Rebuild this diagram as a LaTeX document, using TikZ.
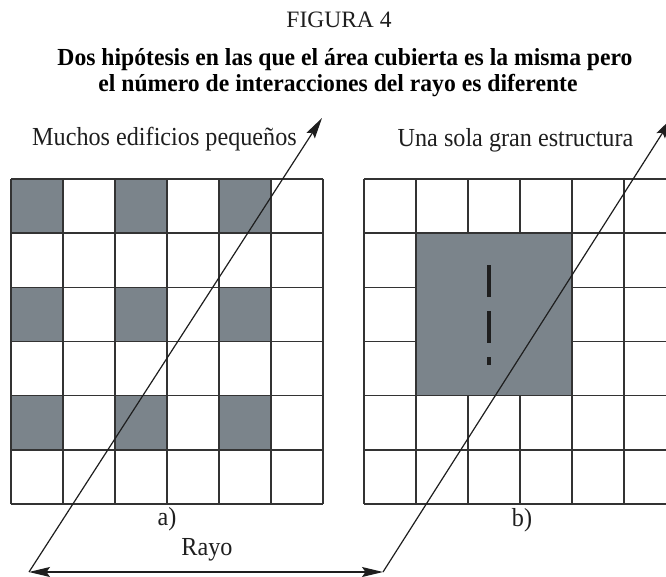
\documentclass[tikz,border=0pt]{standalone}
\usepackage{fontspec}
\usepackage{graphicx}
\setmainfont{Liberation Serif}
\usetikzlibrary{arrows.meta}
\definecolor{bldg}{HTML}{7B848B}
\definecolor{gridc}{HTML}{333333}
\definecolor{inkc}{HTML}{1E1E1E}
\newcommand\condtxt[1]{\scalebox{0.93}[1]{#1}}
\newcommand\condttl[1]{\scalebox{0.965}[1]{#1}}
\begin{document}
\begin{tikzpicture}[x=1pt,y=-1pt,
  gridline/.style={draw=gridc, line width=1.6pt},
  bldgbox/.style={fill=bldg, draw=gridc, line width=1.6pt},
  ray/.style={draw=inkc, line width=1.2pt},
  tip/.tip={Stealth[length=21pt,width=10pt,inset=3.5pt]},
  dashmark/.style={draw=inkc, line width=3.8pt, dash pattern=on 32pt off 14pt},
  lbl/.style={font=\fontsize{26}{28}\selectfont, text=inkc, inner sep=0pt, anchor=base},
  ttl/.style={font=\bfseries\fontsize{24.5}{26}\selectfont, text=black, inner sep=0pt, anchor=base},
]
\useasboundingbox (0,0) rectangle (666,577);
\clip (0,0) rectangle (666,577);

% ---- texts
\node[lbl, font=\fontsize{23.5}{26}\selectfont] (fig) at (339,28) {FIGURA 4};
\node[ttl] (title1) at (345,66) {\condttl{Dos hipótesis en las que el área cubierta es la misma pero}};
\node[ttl] (title2) at (338,92) {\condttl{el número de interacciones del rayo es diferente}};
\node[lbl] (la) at (164.5,146) {\condtxt{Muchos edificios pequeños}};
\node[lbl] (lb) at (515.5,147) {\condtxt{Una sola gran estructura}};
\node[lbl] (a) at (167,525) {\condtxt{a)}};
\node[lbl] (b) at (522,526) {\condtxt{b)}};
\node[lbl] (rayo) at (207,555) {\condtxt{Rayo}};

% ---- grid a: many small buildings
\foreach \c in {0,2,4}
  \foreach \r in {0,2,4}
    \fill[bldg] ({11+52*\c},{179+54.1667*\r}) rectangle ++(52,54.1667);
\foreach \i in {0,...,6} {
  \draw[gridline] ({11+52*\i},179) -- ({11+52*\i},504);
  \draw[gridline] (11,{179+54.1667*\i}) -- (323,{179+54.1667*\i});
}

% ---- grid b: one large structure
\foreach \i in {0,...,6} {
  \draw[gridline] ({364+52*\i},179) -- ({364+52*\i},504);
  \draw[gridline] (364,{179+54.1667*\i}) -- (676,{179+54.1667*\i});
}
\draw[bldgbox] (416,233.17) rectangle (572,395.67);
\coordinate (d0) at (489,265);
\coordinate (d1) at (489,365);
\draw[dashmark] (d0) -- (d1);

% ---- rays
\coordinate (ra0) at (29,572);
\coordinate (ra1) at (322,118);
\coordinate (rb0) at (383,572);
\coordinate (rb1) at (672,118);
\draw[ray, -tip] (ra0) -- (ra1);
\draw[ray, -tip] (rb0) -- (rb1);
\draw[ray, tip-tip] (ra0) -- (rb0);
\end{tikzpicture}
\end{document}
